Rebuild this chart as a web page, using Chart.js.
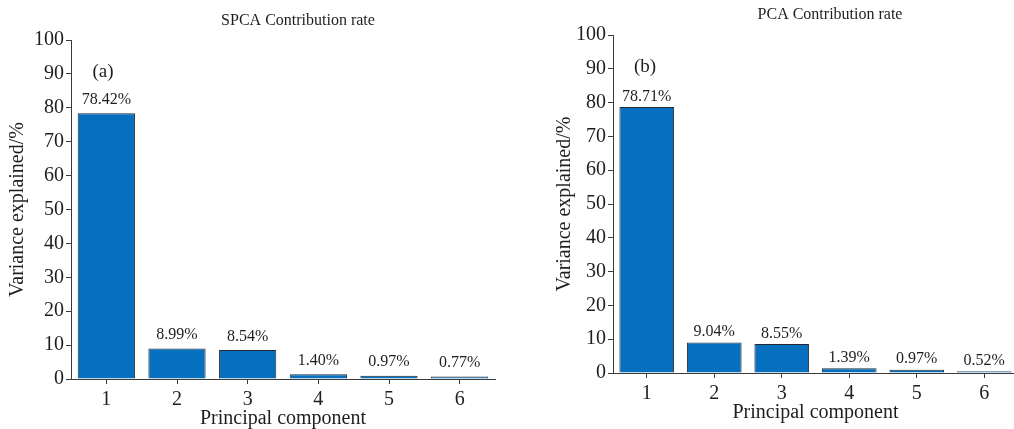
<!DOCTYPE html>
<html>
<head>
<meta charset="utf-8">
<script src="https://cdn.jsdelivr.net/npm/chart.js@4/dist/chart.umd.min.js"></script>
<style>
  html, body { margin: 0; padding: 0; background: #fff; overflow: hidden; }
  #wrap { position: relative; width: 1014px; height: 429px; overflow: hidden; }
  .panel { position: absolute; top: 0; height: 429px; overflow: hidden; }
  #panelA { left: 0; width: 500px; }
  #panelB { left: 500px; width: 514px; }
  canvas { display: block; }
</style>
</head>
<body>
<div id="wrap">
  <div class="panel" id="panelA"><canvas id="chartA" width="500" height="429"></canvas></div>
  <div class="panel" id="panelB"><canvas id="chartB" width="518" height="429"></canvas></div>
</div>
<script>
// Principal components and the share of variance each one explains (%)
const components = ['1', '2', '3', '4', '5', '6'];
const spcaRates = [78.42, 8.99, 8.54, 1.40, 0.97, 0.77];
const pcaRates = [78.71, 9.04, 8.55, 1.39, 0.97, 0.52];
const yTicks = [0, 10, 20, 30, 40, 50, 60, 70, 80, 90, 100];

const titleA = 'SPCA Contribution rate';
const titleB = 'PCA Contribution rate';
const tagA = '(a)';
const tagB = '(b)';
const xTitle = 'Principal component';
const yTitle = 'Variance explained/%';

const SERIF = '"Liberation Serif", "Times New Roman", serif';
const INK = '#1e1e1e';
const AXIS = '#3a3a3a';
const BAR = '#0670bf';

// Draws the panel title, the panel tag and the value above each bar
const annotate = {
  id: 'annotate',
  afterDatasetsDraw(chart, args, opts) {
    const ctx = chart.ctx;
    ctx.save();
    ctx.fillStyle = INK;
    ctx.textAlign = 'center';
    ctx.textBaseline = 'middle';
    ctx.font = '16px ' + SERIF;
    ctx.fillText(opts.title, opts.titleX, opts.titleY);
    ctx.font = '19px ' + SERIF;
    ctx.fillText(opts.tag, opts.tagX, opts.tagY);
    ctx.font = '16px ' + SERIF;
    const meta = chart.getDatasetMeta(0);
    const values = chart.data.datasets[0].data;
    meta.data.forEach((bar, i) => {
      ctx.fillText(values[i].toFixed(2) + '%', bar.x, bar.y - opts.labelGap);
    });
    ctx.restore();
  }
};

function makeChart(id, values, cfg) {
  return new Chart(document.getElementById(id), {
    type: 'bar',
    data: {
      labels: components,
      datasets: [{
        data: values,
        backgroundColor: BAR,
        borderColor: '#262b33',
        borderWidth: 1,
        borderSkipped: 'bottom',
        barPercentage: 0.81,
        categoryPercentage: 1.0
      }]
    },
    options: {
      responsive: false,
      animation: false,
      devicePixelRatio: 1,
      layout: { padding: cfg.padding },
      plugins: {
        legend: { display: false },
        tooltip: { enabled: false },
        title: { display: false },
        annotate: cfg.annotate
      },
      scales: {
        x: {
          type: 'category',
          offset: true,
          afterFit(scale) { scale.height = cfg.xHeight; },
          grid: { display: true, offset: false, drawOnChartArea: false, drawTicks: true, tickLength: 5, color: AXIS },
          border: { display: true, color: AXIS, width: 1 },
          ticks: { color: INK, padding: 4, font: { family: SERIF, size: 20 } },
          title: {
            display: true, text: xTitle, color: INK,
            font: { family: SERIF, size: 20, lineHeight: 1.0 },
            padding: { top: 0, bottom: 0 }
          }
        },
        y: {
          min: 0,
          max: 100,
          afterFit(scale) { scale.width = cfg.yWidth; },
          afterBuildTicks(scale) { scale.ticks = yTicks.map(v => ({ value: v })); },
          grid: { display: true, drawOnChartArea: false, drawTicks: true, tickLength: 5, color: AXIS },
          border: { display: true, color: AXIS, width: 1 },
          ticks: { color: INK, padding: 2, font: { family: SERIF, size: 20 } },
          title: {
            display: true, text: yTitle, color: INK,
            font: { family: SERIF, size: 20, lineHeight: 1.2 },
            padding: { top: 6, bottom: 0 }
          }
        }
      }
    },
    plugins: [annotate]
  });
}

makeChart('chartA', spcaRates, {
  padding: { top: 40, bottom: 0, left: 0, right: 5 },
  xHeight: 50,
  yWidth: 71,
  annotate: { title: titleA, titleX: 298, titleY: 21, tag: tagA, tagX: 103, tagY: 72, labelGap: 13.5 }
});

makeChart('chartB', pcaRates, {
  padding: { top: 35, bottom: 6.5, left: 47, right: 0 },
  xHeight: 49.5,
  yWidth: 66,
  annotate: { title: titleB, titleX: 330, titleY: 15, tag: tagB, tagX: 145, tagY: 67, labelGap: 10.5 }
});
</script>
</body>
</html>
